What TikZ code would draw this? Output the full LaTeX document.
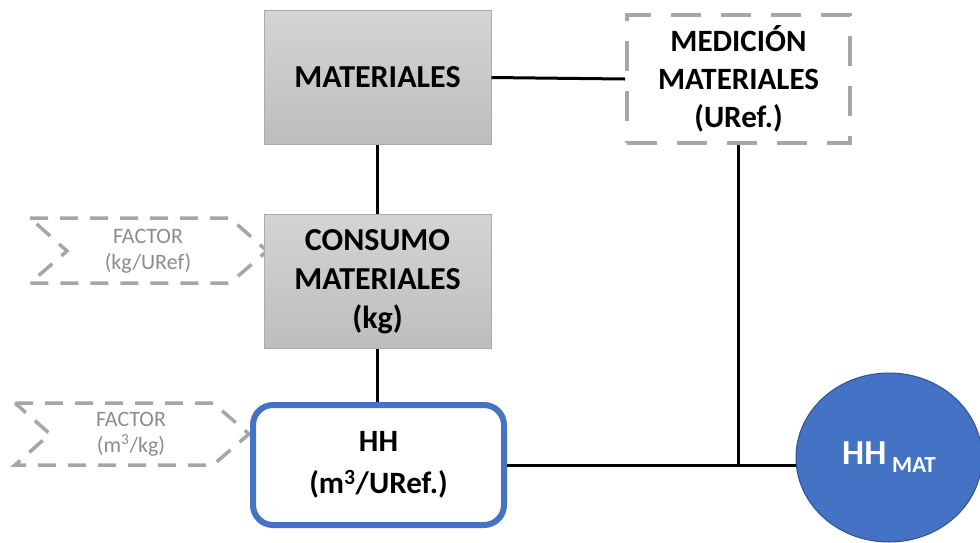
\documentclass[tikz,border=0pt]{standalone}
\usepackage{fontspec}
\setmainfont{Carlito}
\usetikzlibrary{shapes.geometric}
\definecolor{boxtop}{HTML}{D4D4D4}
\definecolor{boxbot}{HTML}{BDBDBD}
\definecolor{boxline}{HTML}{ABABAB}
\definecolor{dashgray}{HTML}{A6A6A6}
\definecolor{factortext}{HTML}{8C8C8C}
\definecolor{hhblue}{HTML}{4472C4}
\definecolor{hhdark}{HTML}{2F528F}
\tikzset{
  graybox/.style={draw=boxline, line width=1pt, top color=boxtop, bottom color=boxbot,
    minimum width=227pt, minimum height=134pt, inner sep=0pt, align=center,
    font=\bfseries\fontsize{32}{39}\selectfont},
  dashbox/.style={draw=dashgray, line width=4pt, dash pattern=on 30pt off 20pt, fill=white,
    minimum width=223pt, minimum height=128pt, inner sep=0pt, align=center,
    font=\bfseries\fontsize{31}{38}\selectfont},
  hhbox/.style={draw=hhblue, line width=6pt, rounded corners=20pt, fill=white,
    minimum width=251pt, minimum height=120pt, inner sep=0pt, align=center,
    font=\bfseries\fontsize{31}{42}\selectfont},
  hhmatnode/.style={ellipse, draw=hhdark, line width=1pt, fill=hhblue, text=white,
    minimum width=186pt, minimum height=169pt, inner sep=0pt,
    font=\bfseries\fontsize{35}{40}\selectfont},
  chevron/.style={draw=dashgray, line width=3.5pt, dash pattern=on 18pt off 12pt},
  factortxt/.style={text=factortext, align=center, inner sep=0pt,
    font=\fontsize{22}{26}\selectfont},
  conn/.style={draw=black, line width=3pt}
}
\begin{document}
\begin{tikzpicture}[x=1pt,y=-1pt]
\useasboundingbox (0,0) rectangle (980,542);
% chevrons
\draw[chevron] (30,218) -- (230,218) -- (267,251) -- (230,283) -- (30,283) -- (67,251) -- cycle;
\node[factortxt] (f1) at (148,251) {FACTOR\\(kg/URef)};
\draw[chevron] (15,403) -- (213,403) -- (249,434) -- (213,465) -- (15,465) -- (50,434) -- cycle;
\node[factortxt] (f2) at (131,434) {FACTOR\\(m\textsuperscript{3}/kg)};
% nodes
\node[graybox] (mat) at (377.5,77.5) {MATERIALES};
\node[dashbox] (med) at (738.5,79) {MEDICIÓN\\MATERIALES\\(URef.)};
\node[graybox] (cons) at (377.5,281.5) {CONSUMO\\MATERIALES\\(kg)};
\node[hhbox] (hh) at (378.5,465) {HH\\(m\textsuperscript{3}/URef.)};
\node[hhmatnode] (hhmat) at (889,457.5) {HH\,\raisebox{-8pt}{\fontsize{23}{26}\selectfont MAT}};
% connectors
\coordinate (j) at (med.south |- hh.east);
\draw[conn] (mat.east) -- (med.west);
\draw[conn] (mat.south) -- (cons.north);
\draw[conn] (cons.south) -- (cons.south |- hh.north);
\draw[conn] (hh.east) -- (hh.east -| hhmat.west);
\draw[conn] (med.south) -- (j);
\end{tikzpicture}
\end{document}
